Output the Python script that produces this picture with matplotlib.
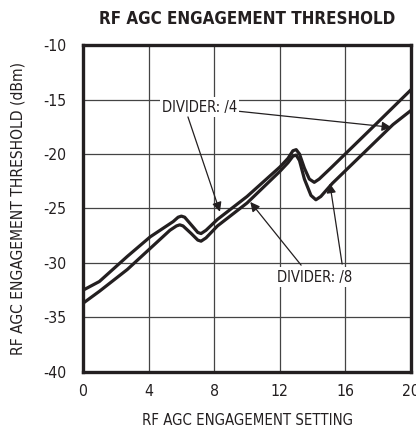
import matplotlib
matplotlib.use("Agg")
from matplotlib import pyplot as plt

# divider /4 (upper curve)
x4 = [0, 1.0, 2.7, 4.1, 5.5, 5.8, 6.0, 6.2, 6.6, 7.0, 7.2, 7.5, 8.2, 10.0, 12.0, 12.5, 12.8, 13.0, 13.2, 13.5, 13.8, 14.1, 14.4, 15.1, 17.9, 20]
y4 = [-32.5, -31.7, -29.4, -27.6, -26.2, -25.8, -25.7, -25.8, -26.5, -27.2, -27.3, -27.0, -26.0, -23.9, -21.2, -20.4, -19.7, -19.6, -20.0, -21.3, -22.3, -22.6, -22.3, -21.3, -17.2, -14.1]

# divider /8 (lower curve)
x8 = [0, 1.0, 2.7, 5.3, 5.7, 5.9, 6.1, 6.6, 7.0, 7.2, 7.5, 8.2, 10.0, 12.0, 12.5, 12.8, 13.0, 13.2, 13.5, 13.9, 14.2, 14.5, 15.2, 18.9, 20]
y8 = [-33.7, -32.6, -30.6, -27.0, -26.6, -26.5, -26.6, -27.3, -27.9, -28.0, -27.7, -26.6, -24.5, -21.6, -20.8, -20.2, -20.1, -20.6, -22.3, -23.8, -24.2, -23.9, -22.7, -17.3, -16.0]

xticks = [0, 4, 8, 12, 16, 20]
yticks = [-40, -35, -30, -25, -20, -15, -10]

plt.rcParams['font.family'] = ['DejaVu Sans']
plt.rcParams['font.stretch'] = 'condensed'
plt.rcParams['axes.unicode_minus'] = False

ink = '#231f20'

fig = plt.figure(figsize=(4.16, 4.33), dpi=100)
ax = fig.add_axes([0.1995, 0.141, 0.7885, 0.755])

ax.plot(x4, y4, color=ink, lw=2.3, solid_joinstyle='round', zorder=3)
ax.plot(x8, y8, color=ink, lw=2.3, solid_joinstyle='round', zorder=3)

ax.set_xlim(0, 20)
ax.set_ylim(-40, -10)
ax.set_xticks(xticks)
ax.set_yticks(yticks)
ax.grid(True, color='#444444', lw=0.9)
ax.tick_params(length=0, labelsize=11.3, colors=ink)
ax.tick_params(axis='y', pad=12)
ax.tick_params(axis='x', pad=9)
for s in ax.spines.values():
    s.set_linewidth(2.4)
    s.set_color(ink)

ax.set_xlabel('RF AGC ENGAGEMENT SETTING', fontsize=10.7, color=ink, labelpad=10)
ax.set_ylabel('RF AGC ENGAGEMENT THRESHOLD (dBm)', fontsize=11.2, color=ink, labelpad=12.5)
ax.set_title('RF AGC ENGAGEMENT THRESHOLD', fontsize=12.2, fontweight='bold', color=ink, pad=15)

box = dict(boxstyle='square,pad=0.15', fc='white', ec='none')
arr = dict(arrowstyle='-|>', color=ink, lw=0.9, mutation_scale=14, shrinkA=0, shrinkB=0)

ax.annotate('DIVIDER: /4', xy=(18.8, -17.55), xytext=(7.1, -15.7), fontsize=10.6,
            ha='center', va='center', color=ink, bbox=box, arrowprops=arr, zorder=5)
ax.annotate('', xy=(8.35, -25.3), xytext=(6.4, -16.6), arrowprops=arr, zorder=5)

ax.annotate('DIVIDER: /8', xy=(10.2, -24.4), xytext=(14.1, -31.3), fontsize=10.6,
            ha='center', va='center', color=ink, bbox=box, zorder=5)
ax.annotate('', xy=(10.2, -24.4), xytext=(13.3, -30.2), arrowprops=arr, zorder=5)
ax.annotate('', xy=(15.05, -22.7), xytext=(15.8, -30.1), arrowprops=arr, zorder=5)

fig.savefig('out.png', dpi=100)
